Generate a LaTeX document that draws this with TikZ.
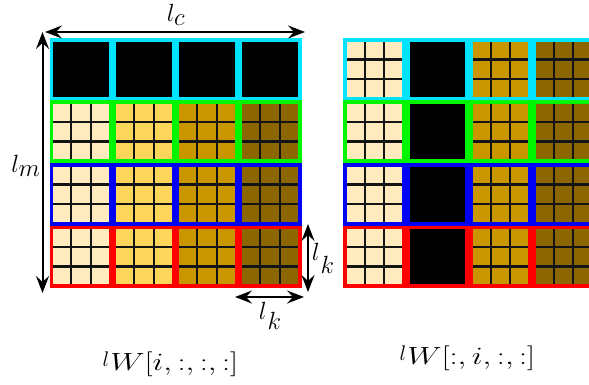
\documentclass[tikz,border=0pt]{standalone}
\usetikzlibrary{arrows.meta}
\definecolor{cA}{RGB}{255,235,190}
\definecolor{cB}{RGB}{255,214,92}
\definecolor{cC}{RGB}{201,150,0}
\definecolor{cD}{RGB}{140,102,0}
\definecolor{bcyan}{RGB}{0,228,255}
\definecolor{bgreen}{RGB}{0,245,0}
\definecolor{bblue}{RGB}{0,0,245}
\definecolor{bred}{RGB}{255,0,0}
\definecolor{gline}{RGB}{20,20,20}
\tikzset{
  blk/.style={draw=#1, line width=3.6pt, minimum width=59.4pt, minimum height=58.9pt, inner sep=0pt, outer sep=0pt},
  cells/.style={fill=#1, path picture={
    \draw[gline, line width=2.2pt]
      ([xshift=-9.7pt]path picture bounding box.north) -- ([xshift=-9.7pt]path picture bounding box.south)
      ([xshift=9.7pt]path picture bounding box.north) -- ([xshift=9.7pt]path picture bounding box.south)
      ([yshift=-9.7pt]path picture bounding box.east) -- ([yshift=-9.7pt]path picture bounding box.west)
      ([yshift=9.7pt]path picture bounding box.east) -- ([yshift=9.7pt]path picture bounding box.west);}},
  solid black/.style={fill=black},
  dimarrow/.style={line width=2pt, {Stealth[length=17pt,width=13pt,inset=6pt]}-{Stealth[length=17pt,width=13pt,inset=6pt]}},
  lbl/.style={font=\fontsize{23}{28}\selectfont, inner sep=0pt}
}
\begin{document}
\begin{tikzpicture}[x=1pt,y=-1pt]
\useasboundingbox (0,0) rectangle (589,385);
\clip (0,0) rectangle (589,385);
% left grid
\foreach \r/\bc in {0/bcyan,1/bgreen,2/bblue,3/bred}{
  \foreach \c/\fc in {0/cA,1/cB,2/cC,3/cD}{
    \pgfmathsetmacro{\xx}{81+63*\c}
    \pgfmathsetmacro{\yy}{69.25+62.5*\r}
    \ifnum\r=0
      \node[blk=\bc, solid black] (L\r\c) at (\xx,\yy) {};
    \else
      \node[blk=\bc, cells=\fc] (L\r\c) at (\xx,\yy) {};
    \fi
  }
}
% right grid
\foreach \r/\bc in {0/bcyan,1/bgreen,2/bblue,3/bred}{
  \foreach \c/\fc in {0/cA,1/cB,2/cC,3/cD}{
    \pgfmathsetmacro{\xx}{374.5+63*\c}
    \pgfmathsetmacro{\yy}{69.25+62.5*\r}
    \ifnum\c=1
      \node[blk=\bc, solid black] (R\r\c) at (\xx,\yy) {};
    \else
      \node[blk=\bc, cells=\fc] (R\r\c) at (\xx,\yy) {};
    \fi
  }
}
% dimension arrows
\coordinate (lcA) at (45,32);
\coordinate (lcB) at (305,32);
\coordinate (lmA) at (42.5,32);
\coordinate (lmB) at (42.5,293);
\coordinate (lkvA) at (308,224);
\coordinate (lkvB) at (308,292);
\coordinate (lkhA) at (235,297);
\coordinate (lkhB) at (304,297);
\draw[dimarrow] (lcA) -- (lcB);
\draw[dimarrow] (lmA) -- (lmB);
\draw[dimarrow] (lkvA) -- (lkvB);
\draw[dimarrow] (lkhA) -- (lkhB);
% labels
\node[lbl] (tlc) at (176,15) {$l_{\textstyle c}$};
\node[lbl] (tlm) at (26,166) {$l_{\textstyle m}$};
\node[lbl] (tlkv) at (323,258) {$l\kern1pt\raisebox{-13pt}{$k$}$};
\node[lbl] (tlkh) at (270,316) {$l\kern1pt\raisebox{-10pt}{$k$}$};
\node[lbl] (capL) at (170.5,364) {\raisebox{4pt}{\scalebox{0.85}{$l$}}\kern1pt\scalebox{1.3}[1]{$W[i,:,:,:]$}};
\node[lbl] (capR) at (467.5,358.5) {\raisebox{4pt}{\scalebox{0.85}{$l$}}\kern1pt\scalebox{1.3}[1]{$W[:,i,:,:]$}};
\end{tikzpicture}
\end{document}
